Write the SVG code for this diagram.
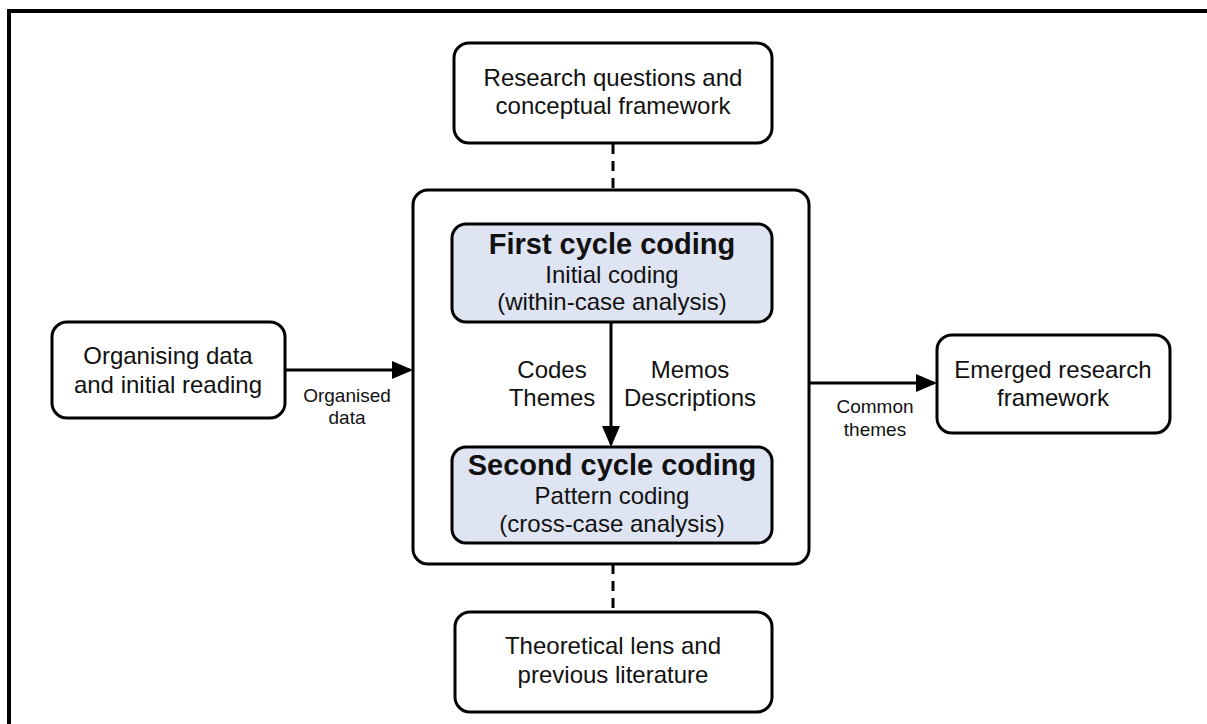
<svg xmlns="http://www.w3.org/2000/svg" width="1207" height="724" viewBox="0 0 1207 724">
<style>
.box{fill:#fff;stroke:#000;stroke-width:3}
.inner{fill:#dfe4f2;stroke:#000;stroke-width:3}
.t{font-family:"Liberation Sans",Arial,sans-serif;font-size:24px;text-anchor:middle;fill:#111}
.b{font-weight:bold;font-size:29px}
.s{font-size:19px}
.c{stroke:#000;stroke-width:3;fill:none}
.d{stroke:#000;stroke-width:3;fill:none;stroke-dasharray:10,7}
</style>
<defs>
<marker id="arr" markerWidth="7" markerHeight="6" refX="6" refY="3" orient="auto" markerUnits="strokeWidth">
<path d="M0,0 L7,3 L0,6 Z" fill="#000"/>
</marker>
</defs>
<rect x="9" y="11" width="1220" height="740" fill="none" stroke="#000" stroke-width="4"/>
<g id="main">
<rect class="box" x="413" y="190" width="396" height="374" rx="15"/>
</g>
<g id="connectors">
<line class="d" x1="613" y1="144" x2="613" y2="190"/>
<line class="d" x1="613" y1="564" x2="613" y2="612"/>
<line class="c" x1="285" y1="370" x2="410" y2="370" marker-end="url(#arr)"/>
<line class="c" x1="810" y1="383" x2="934" y2="383" marker-end="url(#arr)"/>
<line class="c" x1="611" y1="322" x2="611" y2="444" marker-end="url(#arr)"/>
<text class="t s" x="347" y="402">Organised</text>
<text class="t s" x="347" y="424">data</text>
<text class="t s" x="875" y="413">Common</text>
<text class="t s" x="875" y="436">themes</text>
</g>
<g id="research">
<rect class="box" x="454" y="43" width="318" height="100" rx="15"/>
<text class="t" x="613" y="86">Research questions and</text>
<text class="t" x="613" y="114">conceptual framework</text>
</g>
<g id="first">
<rect class="inner" x="452" y="224" width="320" height="98" rx="14"/>
<text class="t b" x="612" y="254">First cycle coding</text>
<text class="t" x="612" y="283">Initial coding</text>
<text class="t" x="612" y="310">(within-case analysis)</text>
</g>
<g id="labels">
<text class="t" x="552" y="378">Codes</text>
<text class="t" x="552" y="406">Themes</text>
<text class="t" x="690" y="378">Memos</text>
<text class="t" x="690" y="406">Descriptions</text>
</g>
<g id="second">
<rect class="inner" x="452" y="447" width="320" height="96" rx="14"/>
<text class="t b" x="612" y="475">Second cycle coding</text>
<text class="t" x="612" y="504">Pattern coding</text>
<text class="t" x="612" y="532">(cross-case analysis)</text>
</g>
<g id="organising">
<rect class="box" x="52" y="322" width="233" height="96" rx="15"/>
<text class="t" x="168" y="364">Organising data</text>
<text class="t" x="168" y="393">and initial reading</text>
</g>
<g id="emerged">
<rect class="box" x="937" y="335" width="233" height="98" rx="15"/>
<text class="t" x="1053" y="378">Emerged research</text>
<text class="t" x="1053" y="406">framework</text>
</g>
<g id="theoretical">
<rect class="box" x="455" y="612" width="317" height="100" rx="15"/>
<text class="t" x="613" y="654">Theoretical lens and</text>
<text class="t" x="613" y="683">previous literature</text>
</g>
</svg>
